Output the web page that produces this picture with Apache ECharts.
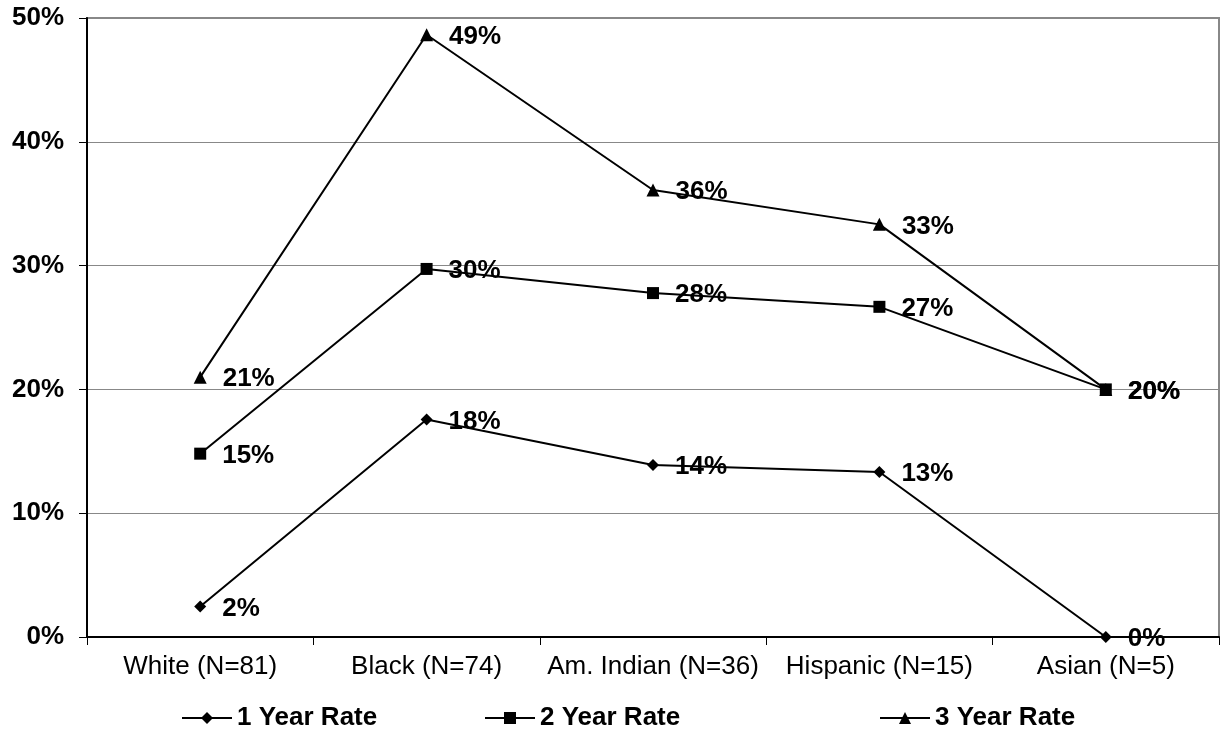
<!DOCTYPE html>
<html><head><meta charset="utf-8">
<script src="https://cdn.jsdelivr.net/npm/echarts@6/dist/echarts.min.js"></script>
<style>html,body{margin:0;padding:0;background:#fff}#c{width:1222px;height:732px}</style>
</head><body><div id="c"></div>
<script>
var categories = ['White (N=81)', 'Black (N=74)', 'Am. Indian (N=36)', 'Hispanic (N=15)', 'Asian (N=5)'];
var seriesNames = ['1 Year Rate', '2 Year Rate', '3 Year Rate'];
var rate1 = [2.47, 17.57, 13.89, 13.33, 0];
var rate2 = [14.81, 29.73, 27.78, 26.67, 20];
var rate3 = [20.99, 48.65, 36.11, 33.33, 20];
var yTicks = [0, 10, 20, 30, 40, 50];
var symbols = ['diamond', 'rect', 'triangle'];
var symbolSizes = [12, 12, 13];
var values = [rate1, rate2, rate3];
var FONT = '"Liberation Sans", Arial, sans-serif';

var chart = echarts.init(document.getElementById('c'));
var series = values.map(function (v, i) {
  return {
    name: seriesNames[i], type: 'line', data: v,
    symbol: symbols[i], symbolSize: symbolSizes[i],
    itemStyle: { color: '#000' },
    lineStyle: { color: '#000', width: 2 },
    label: {
      show: true, position: 'right', distance: 16, offset: [0, 2],
      fontFamily: FONT, fontWeight: 'bold', fontSize: 26, color: '#000',
      formatter: function (p) { return Math.round(p.value) + '%'; }
    },
    animation: false
  };
});
var legendLefts = [176, 479, 874];
var legends = seriesNames.map(function (n, i) {
  return {
    data: [n], left: legendLefts[i], top: 700, itemWidth: 50, itemHeight: 15, itemGap: 4,
    textStyle: { fontFamily: FONT, fontWeight: 'bold', fontSize: 26, color: '#000' }
  };
});
chart.setOption({
  backgroundColor: '#fff',
  animation: false,
  grid: { left: 87, right: 3, top: 18, bottom: 95, show: true, borderColor: '#888', borderWidth: 2 },
  legend: legends,
  xAxis: {
    type: 'category', data: categories, boundaryGap: true,
    axisLine: { lineStyle: { color: '#000', width: 2 } },
    axisTick: { show: true, length: 8, interval: 0, lineStyle: { color: '#000' } },
    axisLabel: { interval: 0, fontFamily: FONT, fontSize: 26, color: '#000', margin: 17 }
  },
  yAxis: {
    type: 'value', min: 0, max: 50, interval: 10,
    axisLine: { show: true, lineStyle: { color: '#000', width: 2 } },
    axisTick: { show: true, length: 8, lineStyle: { color: '#000' } },
    splitLine: { lineStyle: { color: '#888', width: 1 } },
    axisLabel: {
      fontFamily: FONT, fontSize: 26, fontWeight: 'bold', color: '#000', margin: 23,
      formatter: function (v) { return yTicks.indexOf(v) >= 0 ? v + '%' : ''; }
    }
  },
  series: series
});
</script></body></html>
